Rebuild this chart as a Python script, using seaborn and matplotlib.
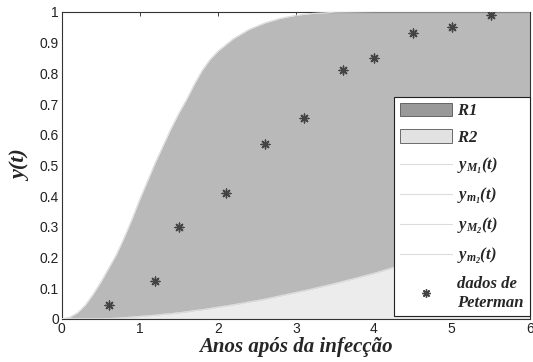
import matplotlib
matplotlib.use("Agg")
import matplotlib.pyplot as plt
import seaborn as sns
import pandas as pd
from matplotlib.patches import Patch
from matplotlib.lines import Line2D

# ---- data ----
t_upper = [0.0, 0.1, 0.2, 0.3, 0.4, 0.5, 0.6, 0.7, 0.8, 0.9, 1.0, 1.1, 1.2, 1.3, 1.4,
           1.5, 1.6, 1.7, 1.8, 1.9, 2.0, 2.2, 2.4, 2.6, 2.8, 3.0, 3.2, 3.5, 4.0, 5.0, 6.0]
y_M1 = [0.0, 0.005, 0.02, 0.045, 0.08, 0.12, 0.165, 0.21, 0.265, 0.325, 0.39, 0.45, 0.51,
        0.565, 0.62, 0.67, 0.715, 0.765, 0.81, 0.845, 0.872, 0.913, 0.943, 0.964, 0.979,
        0.989, 0.995, 0.999, 1.0, 1.0, 1.0]
y_m1 = [0.0, 0.0, 0.0, 0.0, 0.0, 0.0, 0.001, 0.002, 0.004, 0.006, 0.008, 0.010, 0.012,
        0.015, 0.017, 0.020, 0.023, 0.027, 0.030, 0.034, 0.038, 0.046, 0.055, 0.064, 0.075,
        0.086, 0.097, 0.115, 0.148, 0.225, 0.32]
y_M2 = y_m1
y_m2 = [0.0] * len(t_upper)

t_data = [0.6, 1.2, 1.5, 2.1, 2.6, 3.1, 3.6, 4.0, 4.5, 5.0, 5.5]
y_data = [0.045, 0.125, 0.30, 0.41, 0.57, 0.655, 0.81, 0.85, 0.93, 0.95, 0.99]

xticks = [0, 1, 2, 3, 4, 5, 6]
yticks = [0, 0.1, 0.2, 0.3, 0.4, 0.5, 0.6, 0.7, 0.8, 0.9, 1]
ytick_labels = ["0", "0.1", "0.2", "0.3", "0.4", "0.5", "0.6", "0.7", "0.8", "0.9", "1"]

sns.set_style("white")
plt.rcParams["font.family"] = ["Liberation Sans", "DejaVu Sans"]
plt.rcParams["mathtext.fontset"] = "custom"
plt.rcParams["mathtext.it"] = "Liberation Serif:italic:bold"
plt.rcParams["mathtext.rm"] = "Liberation Serif:italic:bold"
plt.rcParams["mathtext.bf"] = "Liberation Serif:italic:bold"

fig, ax = plt.subplots(figsize=(5.33, 3.62), dpi=100)
fig.subplots_adjust(left=0.116, right=0.994, top=0.967, bottom=0.119)

dark = "#b9b9b9"
light = "#ececec"
ax.fill_between(t_upper, y_m2, y_M2, color=light, lw=0, zorder=1)
ax.fill_between(t_upper, y_m1, y_M1, color=dark, lw=0, zorder=2)

df = pd.DataFrame({"t": t_upper, "yM1": y_M1, "ym1": y_m1, "yM2": y_M2, "ym2": y_m2})
for col in ["yM1", "ym1", "yM2", "ym2"]:
    sns.lineplot(data=df, x="t", y=col, ax=ax, color="#dcdcdc", lw=0.8, zorder=3)

dd = pd.DataFrame({"t": t_data, "y": y_data})
sns.scatterplot(data=dd, x="t", y="y", ax=ax, marker=(8, 2, 0), s=40,
                color="#444444", edgecolor="#444444", linewidth=1.0, zorder=4)

ax.set_xlim(0, 6)
ax.set_ylim(0, 1)
ax.set_xticks(xticks)
ax.set_yticks(yticks)
ax.set_yticklabels(ytick_labels)
ax.tick_params(direction="in", length=3, width=0.6, top=True, right=True,
               labelsize=10, pad=2, colors="#222222")
for sp in ax.spines.values():
    sp.set_linewidth(0.8)
    sp.set_color("#333333")

ax.set_xlabel("Anos após da infecção", fontsize=15, fontfamily="Liberation Serif",
              fontweight="bold", fontstyle="italic", labelpad=1)
ax.set_ylabel("y(t)", fontsize=16, fontfamily="Liberation Serif",
              fontweight="bold", fontstyle="italic", labelpad=6)

handles = [
    Patch(facecolor="#999999", edgecolor="#555555", lw=0.6),
    Patch(facecolor="#e2e2e2", edgecolor="#555555", lw=0.6),
    Line2D([], [], color="#dcdcdc", lw=0.8),
    Line2D([], [], color="#dcdcdc", lw=0.8),
    Line2D([], [], color="#dcdcdc", lw=0.8),
    Line2D([], [], color="#dcdcdc", lw=0.8),
    Line2D([], [], ls="none", marker=(8, 2, 0), markersize=6, color="#444444"),
]
labels = ["$R1$", "$R2$", "$y_{M_1}(t)$", "$y_{m_1}(t)$", "$y_{M_2}(t)$", "$y_{m_2}(t)$",
          "dados de\nPeterman"]
leg = ax.legend(handles, labels, loc="lower right", bbox_to_anchor=(1.0, 0.008),
                frameon=True, fancybox=False, framealpha=1, edgecolor="#222222",
                prop={"family": "Liberation Serif", "weight": "bold", "style": "italic",
                      "size": 12},
                handlelength=3.1, handleheight=0.85, handletextpad=0.35,
                labelspacing=0.6, borderpad=0.35, borderaxespad=0)
leg.get_frame().set_linewidth(0.8)
leg.set_zorder(10)

fig.savefig("out.png", dpi=100)
